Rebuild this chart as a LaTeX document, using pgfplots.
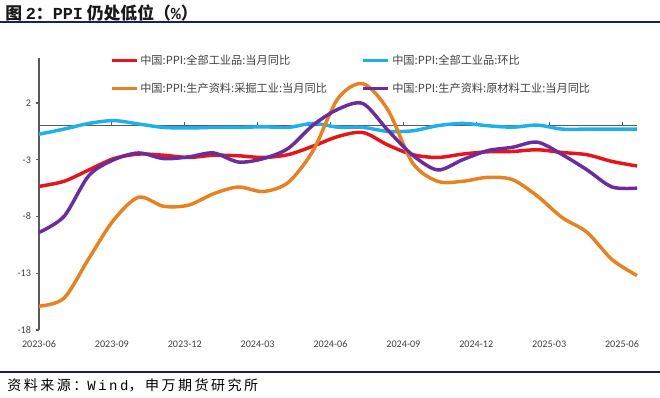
\documentclass[border=0pt]{standalone}
\usepackage{fontspec}
\usepackage{pgfplots}
\usepackage{pgfplotstable}
\pgfplotsset{compat=1.18}
\setmainfont{Carlito}
\newfontfamily\cjk{Noto Sans CJK SC}
\newfontfamily\cjkls{Noto Sans CJK SC}[LetterSpace=18]
\newfontfamily\mono{Liberation Mono}
\newfontfamily\monols{Liberation Mono}[LetterSpace=18]
\definecolor{cred}{HTML}{E8141C}
\definecolor{ccyan}{HTML}{1EB0E8}
\definecolor{corange}{HTML}{E8811E}
\definecolor{cpurple}{HTML}{6A2C9E}
\definecolor{navy}{HTML}{1C1C6B}
\definecolor{tickgray}{HTML}{595959}
\definecolor{txtgray}{HTML}{404040}

\pgfplotstableread{
x red cyan orange purple
0 -5.35 -0.75 -15.9 -9.4
1 -4.9 -0.3 -15.2 -8.0
2 -3.9 0.2 -11.7 -4.4
3 -2.9 0.45 -8.3 -3.0
4 -2.5 0.15 -6.3 -2.4
5 -2.6 -0.15 -7.1 -2.9
6 -2.8 -0.2 -7.0 -2.75
7 -2.6 -0.15 -6.0 -2.4
8 -2.65 -0.15 -5.4 -3.2
9 -2.8 -0.1 -5.8 -2.9
10 -2.55 -0.15 -5.0 -2.0
11 -1.8 0.2 -2.2 0.05
12 -0.95 -0.13 2.4 1.45
13 -0.6 -0.15 3.7 1.95
14 -1.7 -0.5 1.4 -0.4
15 -2.55 -0.45 -3.3 -2.6
16 -2.8 0.0 -4.9 -3.9
17 -2.5 0.2 -4.9 -3.0
18 -2.3 0.0 -4.55 -2.2
19 -2.27 -0.13 -4.75 -1.9
20 -2.12 0.05 -6.2 -1.45
21 -2.36 -0.3 -8.1 -2.55
22 -2.56 -0.3 -9.4 -3.9
23 -3.15 -0.3 -11.8 -5.4
24 -3.55 -0.3 -13.2 -5.5
}\data

\begin{document}
\begin{tikzpicture}
\path[use as bounding box] (0,0) rectangle (495pt,297.75pt);
% title
\node[anchor=west, inner sep=0pt, text=black!90] at (3.75pt,288.3pt)
  {\fontsize{12.6pt}{14pt}\selectfont\cjk\bfseries 图 {\mono\bfseries 2}：{\mono\bfseries PPI} 仍处低位（{\mono\bfseries\%}）};
\draw[navy, line width=1.4pt] (0,281.4pt) -- (495pt,281.4pt);
\draw[navy, line width=1.1pt] (0,18.75pt) -- (495pt,18.75pt);
\node[anchor=west, inner sep=0pt, text=black] at (5.25pt,9pt)
  {\fontsize{10.5pt}{12pt}\selectfont\cjkls 资料来源：{\monols Wind}，申万期货研究所};

\begin{axis}[
  at={(29.25pt,50.25pt)}, anchor=south west,
  scale only axis, width=448.5pt, height=204.3pt,
  xmin=0, xmax=24, ymin=-18, ymax=6,
  axis y line*=left, axis x line*=bottom,
  x axis line style={draw=none},
  y axis line style={draw=tickgray, line width=0.9pt},
  xtick={0,2.925,5.85,8.775,11.7,14.625,17.55,20.475,23.4},
  xticklabels={2023-06,2023-09,2023-12,2024-03,2024-06,2024-09,2024-12,2025-03,2025-06},
  ytick={-18,-13,-8,-3,2},
  yticklabels={-18,-13,-8,-3,2},
  xtick style={draw=none},
  ytick style={draw=tickgray, line width=0.8pt},
  tick align=outside, major tick length=2.5pt,
  tick label style={font=\fontsize{7.6pt}{9pt}\selectfont, text=txtgray},
  xticklabel style={yshift=-2pt},
  clip=false,
  every axis plot/.append style={smooth, tension=0.5, line width=2.6pt, mark=none},
]
\draw[tickgray, line width=0.8pt] (axis cs:0,0) -- (axis cs:24,0);
\draw[tickgray, line width=0.8pt] (axis cs:2.925,0) -- (axis cs:2.925,0.3);
\draw[tickgray, line width=0.8pt] (axis cs:5.85,0) -- (axis cs:5.85,0.3);
\draw[tickgray, line width=0.8pt] (axis cs:8.775,0) -- (axis cs:8.775,0.3);
\draw[tickgray, line width=0.8pt] (axis cs:11.7,0) -- (axis cs:11.7,0.3);
\draw[tickgray, line width=0.8pt] (axis cs:14.625,0) -- (axis cs:14.625,0.3);
\draw[tickgray, line width=0.8pt] (axis cs:17.55,0) -- (axis cs:17.55,0.3);
\draw[tickgray, line width=0.8pt] (axis cs:20.475,0) -- (axis cs:20.475,0.3);
\draw[tickgray, line width=0.8pt] (axis cs:23.4,0) -- (axis cs:23.4,0.3);
\addplot[cred] table[x=x,y=red]{\data};
\addplot[ccyan] table[x=x,y=cyan]{\data};
\addplot[corange] table[x=x,y=orange]{\data};
\addplot[cpurple] table[x=x,y=purple]{\data};
\end{axis}

% legend
\begin{scope}[every node/.style={anchor=west, inner sep=0pt, text=txtgray, font=\fontsize{8.4pt}{10pt}\selectfont\cjk}]
\draw[cred, line width=2.6pt] (84pt,252.3pt) -- (102.75pt,252.3pt);
\node at (105pt,252.3pt) {中国:PPI:全部工业品:当月同比};
\draw[ccyan, line width=2.6pt] (272.25pt,252.3pt) -- (291pt,252.3pt);
\node at (294pt,252.3pt) {中国:PPI:全部工业品:环比};
\draw[corange, line width=2.6pt] (84pt,231.3pt) -- (102.75pt,231.3pt);
\node at (105pt,231.3pt) {中国:PPI:生产资料:采掘工业:当月同比};
\draw[cpurple, line width=2.6pt] (272.25pt,231.3pt) -- (291pt,231.3pt);
\node at (294pt,231.3pt) {中国:PPI:生产资料:原材料工业:当月同比};
\end{scope}
\end{tikzpicture}
\end{document}
